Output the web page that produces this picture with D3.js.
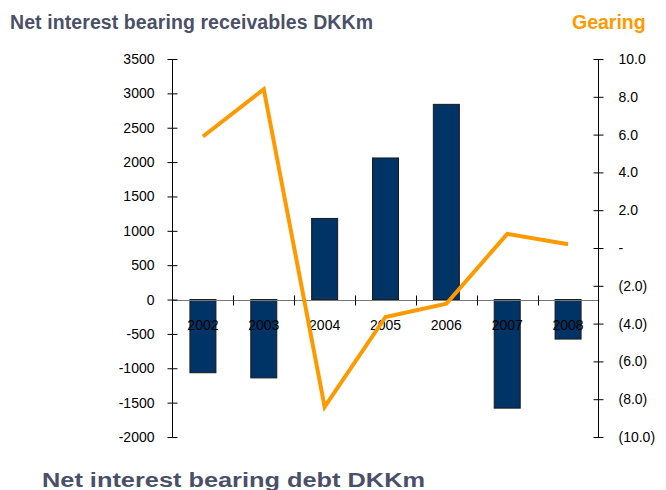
<!DOCTYPE html>
<html>
<head>
<meta charset="utf-8">
<script src="https://cdn.jsdelivr.net/npm/d3@7"></script>
<style>
  body { margin: 0; background: #fff; }
  svg text { font-family: Arial, "Liberation Sans", sans-serif; }
</style>
</head>
<body>
<div id="chart"></div>
<script>
(function() {
  var WIDTH = 666, HEIGHT = 490;

  // data
  var years = ['2002', '2003', '2004', '2005', '2006', '2007', '2008'];
  var receivables = [-1065, -1140, 1180, 2060, 2840, -1580, -575];
  var gearing = [5.9, 8.4, -8.4, -3.65, -2.95, 0.75, 0.2];
  var leftTicks = [3500, 3000, 2500, 2000, 1500, 1000, 500, 0, -500, -1000, -1500, -2000];
  var rightTicks = [10, 8, 6, 4, 2, 0, -2, -4, -6, -8, -10];

  var svg = d3.select('#chart').append('svg')
    .attr('width', WIDTH)
    .attr('height', HEIGHT);

  var left = 172.5, right = 598.5, top = 59, bottom = 437;

  var x = d3.scaleBand().domain(years).range([left, right]);
  var yL = d3.scaleLinear().domain([-2000, 3500]).range([bottom, top]);
  var yR = d3.scaleLinear().domain([-10, 10]).range([bottom, top]);

  // bars
  svg.selectAll('rect.bar')
    .data(receivables)
    .enter().append('rect')
    .attr('class', 'bar')
    .attr('x', function(d, i) { return x(years[i]) + x.bandwidth() / 2 - 13; })
    .attr('width', 26)
    .attr('y', function(d) { return yL(Math.max(0, d)); })
    .attr('height', function(d) { return Math.abs(yL(d) - yL(0)); })
    .attr('fill', '#003366')
    .attr('stroke', '#1a1a1a')
    .attr('stroke-width', 1);

  // x axis at zero
  var xAxisY = Math.round(yL(0)) + 0.5;
  svg.append('line')
    .attr('x1', left).attr('x2', right)
    .attr('y1', xAxisY).attr('y2', xAxisY)
    .attr('stroke', '#777').attr('stroke-width', 1);
  var sepTicks = years.slice(1).map(function(y) { return Math.round(x(y)) + 0.5; });
  svg.selectAll('line.sep')
    .data(sepTicks)
    .enter().append('line')
    .attr('x1', function(d) { return d; }).attr('x2', function(d) { return d; })
    .attr('y1', xAxisY - 5).attr('y2', xAxisY + 5)
    .attr('stroke', '#000');

  // left axis
  var leftAxis = svg.append('g')
    .attr('transform', 'translate(' + left + ',0)')
    .call(d3.axisLeft(yL).tickValues(leftTicks).tickPadding(12).tickFormat(function(d) { return String(d); }));
  leftAxis.selectAll('.tick line').attr('x1', -5).attr('x2', 5);
  leftAxis.select('.domain').remove();
  leftAxis.append('line').attr('y1', top).attr('y2', bottom).attr('stroke', '#000');
  leftAxis.selectAll('text').attr('font-size', 14).attr('fill', '#000');

  // right axis
  var fmtR = function(d) {
    if (d === 0) return '-';
    var s = Math.abs(d).toFixed(1);
    return d < 0 ? '(' + s + ')' : s;
  };
  var rightAxis = svg.append('g')
    .attr('transform', 'translate(' + right + ',0)')
    .call(d3.axisRight(yR).tickValues(rightTicks).tickPadding(14).tickFormat(fmtR));
  rightAxis.selectAll('.tick line').attr('x1', -5).attr('x2', 5);
  rightAxis.select('.domain').remove();
  rightAxis.append('line').attr('y1', top).attr('y2', bottom).attr('stroke', '#000');
  rightAxis.selectAll('text').attr('font-size', 14).attr('fill', '#000');

  // category labels
  svg.selectAll('text.cat')
    .data(years)
    .enter().append('text')
    .attr('class', 'cat')
    .attr('x', function(d) { return x(d) + x.bandwidth() / 2; })
    .attr('y', xAxisY + 29)
    .attr('text-anchor', 'middle')
    .attr('font-size', 14)
    .attr('fill', '#000')
    .text(function(d) { return d; });

  // gearing line
  var line = d3.line()
    .x(function(d, i) { return x(years[i]) + x.bandwidth() / 2; })
    .y(function(d) { return yR(d); });
  svg.append('path')
    .datum(gearing)
    .attr('d', line)
    .attr('fill', 'none')
    .attr('stroke', '#FF9900')
    .attr('stroke-width', 4);

  // titles
  svg.append('text')
    .attr('x', 10).attr('y', 29)
    .attr('font-size', 19.5).attr('font-weight', 'bold')
    .attr('fill', '#4a5068')
    .attr('textLength', 363).attr('lengthAdjust', 'spacing')
    .text('Net interest bearing receivables DKKm');
  svg.append('text')
    .attr('x', 572).attr('y', 29)
    .attr('font-size', 19.5).attr('font-weight', 'bold')
    .attr('fill', '#FF9900')
    .text('Gearing');
  svg.append('text')
    .attr('x', 42).attr('y', 487)
    .attr('font-size', 19.5).attr('font-weight', 'bold')
    .attr('fill', '#4a5068')
    .attr('textLength', 383).attr('lengthAdjust', 'spacingAndGlyphs')
    .text('Net interest bearing debt DKKm');
})();
</script>
</body>
</html>
